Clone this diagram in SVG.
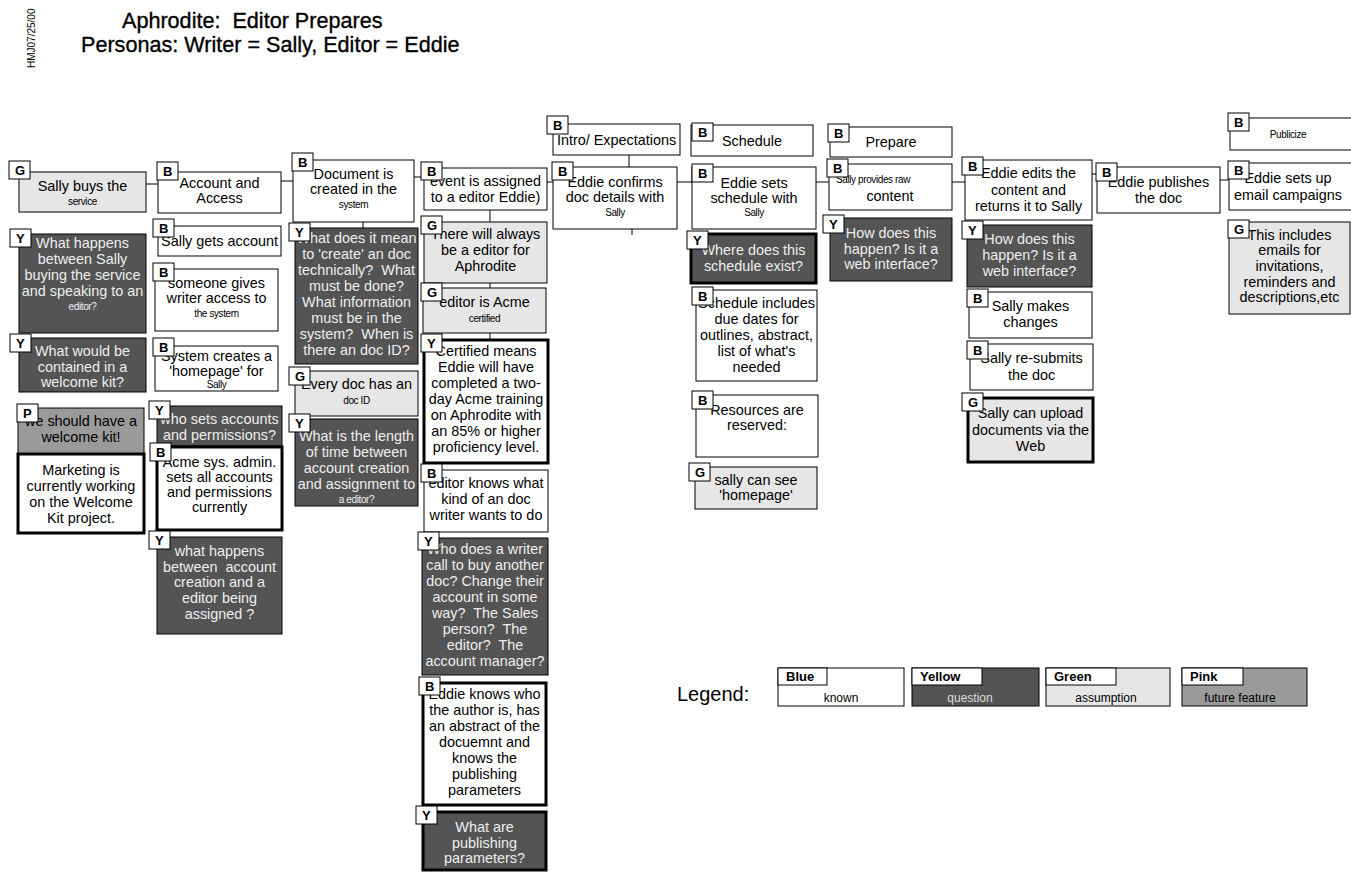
<svg xmlns="http://www.w3.org/2000/svg" width="1351" height="872" viewBox="0 0 1351 872">
<style>
.bx{stroke:#000;stroke-width:1}
.w{fill:#fff}
.y{fill:#545454}
.g{fill:#e6e6e6}
.p{fill:#9a9a9a}
.k{stroke-width:3}
text{font-family:"Liberation Sans",Arial,sans-serif}
.t{font-size:14.4px;text-anchor:middle;fill:#000}
.tl{fill:#eee}
.s{font-size:10px;letter-spacing:-0.4px}
.lb{fill:#fff;stroke:#000;stroke-width:1}
.lt{font-size:13px;font-weight:bold;fill:#000}
.c{stroke:#000;stroke-width:1;fill:none}
.lg{font-size:12px;text-anchor:middle}
.ti{font-size:21.6px;fill:#000;stroke:#000;stroke-width:0.35}
</style>
<rect x="0" y="0" width="1351" height="872" fill="#fff"/>
<g id="title">
<text class="ti" x="122" y="28" xml:space="preserve">Aphrodite:  Editor Prepares</text>
<text class="ti" x="81" y="52">Personas: Writer = Sally, Editor = Eddie</text>
<text transform="translate(35,68) rotate(-90)" font-size="10">HMJ07/25/00</text>
</g>
<g id="connectors">
<path class="c" d="M146,184H158M281,181H293M414,177H424M547,182H553M677,182H692M816,182H829M952,182H965M1092,174H1097M1220,180H1229"/>
<path class="c" d="M363,222V228M490,210V222M490,283V288M490,333V340M629,155V167M632,229V235"/>
</g>
<!-- column 1 -->
<g id="n1"><rect class="bx g" x="19" y="172" width="127" height="40"/><text class="t" x="82.5"><tspan x="82.5" y="191">Sally buys the</tspan><tspan class="s" x="82.5" y="205">service</tspan></text><rect class="lb" x="9" y="161" width="21" height="18"/><text class="lt" x="15" y="175">G</text></g>
<g id="n2"><rect class="bx y" x="19" y="234" width="127" height="99"/><text class="t tl"><tspan x="82.5" y="248">What happens</tspan><tspan x="82.5" y="264">between Sally</tspan><tspan x="82.5" y="280">buying the service</tspan><tspan x="82.5" y="296">and speaking to an</tspan><tspan class="s" x="82.5" y="310">editor?</tspan></text><rect class="lb" x="10" y="229" width="21" height="18"/><text class="lt" x="16" y="243">Y</text></g>
<g id="n3"><rect class="bx y" x="19" y="338" width="127" height="54"/><text class="t tl"><tspan x="82.5" y="356">What would be</tspan><tspan x="82.5" y="372">contained in a</tspan><tspan x="82.5" y="387">welcome kit?</tspan></text><rect class="lb" x="10" y="334" width="21" height="18"/><text class="lt" x="16" y="348">Y</text></g>
<g id="n4"><rect class="bx p" x="18" y="408" width="126" height="46"/><text class="t"><tspan x="81" y="426">we should have a</tspan><tspan x="81" y="442">welcome kit!</tspan></text><rect class="lb" x="17" y="404" width="21" height="18"/><text class="lt" x="23" y="418">P</text></g>
<g id="n5"><rect class="bx w k" x="18" y="454" width="126" height="79"/><text class="t"><tspan x="81" y="475">Marketing is</tspan><tspan x="81" y="491">currently working</tspan><tspan x="81" y="507">on the Welcome</tspan><tspan x="81" y="523">Kit project.</tspan></text></g>
<!-- column 2 -->
<g id="n6"><rect class="bx w" x="158" y="172" width="123" height="41"/><text class="t"><tspan x="219.5" y="188">Account and</tspan><tspan x="219.5" y="203">Access</tspan></text><rect class="lb" x="157" y="162" width="21" height="18"/><text class="lt" x="163" y="176">B</text></g>
<g id="n7"><rect class="bx w" x="158" y="226" width="123" height="30"/><text class="t"><tspan x="219.5" y="246">Sally gets account</tspan></text><rect class="lb" x="153" y="219" width="21" height="18"/><text class="lt" x="159" y="233">B</text></g>
<g id="n8"><rect class="bx w" x="155" y="269" width="123" height="62"/><text class="t"><tspan x="216.5" y="288">someone gives</tspan><tspan x="216.5" y="303">writer access to</tspan><tspan class="s" x="216.5" y="317">the system</tspan></text><rect class="lb" x="153" y="263" width="21" height="18"/><text class="lt" x="159" y="277">B</text></g>
<g id="n9"><rect class="bx w" x="155" y="346" width="123" height="45"/><text class="t"><tspan x="216.5" y="361">System creates a</tspan><tspan x="216.5" y="376">'homepage' for</tspan><tspan class="s" x="216.5" y="388">Sally</tspan></text><rect class="lb" x="153" y="338" width="21" height="18"/><text class="lt" x="159" y="352">B</text></g>
<g id="n10"><rect class="bx y" x="157" y="406" width="125" height="40"/><text class="t tl"><tspan x="219.5" y="424">who sets accounts</tspan><tspan x="219.5" y="440">and permissions?</tspan></text><rect class="lb" x="149" y="401" width="21" height="18"/><text class="lt" x="155" y="415">Y</text></g>
<g id="n11"><rect class="bx w k" x="157" y="447" width="125" height="83"/><text class="t"><tspan x="219.5" y="467">Acme sys. admin.</tspan><tspan x="219.5" y="482">sets all accounts</tspan><tspan x="219.5" y="497">and permissions</tspan><tspan x="219.5" y="512">currently</tspan></text><rect class="lb" x="150" y="443" width="21" height="18"/><text class="lt" x="156" y="457">B</text></g>
<g id="n12"><rect class="bx y" x="157" y="537" width="125" height="97"/><text class="t tl" xml:space="preserve"><tspan x="219.5" y="556">what happens</tspan><tspan x="219.5" y="572">between  account</tspan><tspan x="219.5" y="587">creation and a</tspan><tspan x="219.5" y="603">editor being</tspan><tspan x="219.5" y="619">assigned ?</tspan></text><rect class="lb" x="149" y="531" width="21" height="18"/><text class="lt" x="155" y="545">Y</text></g>
<!-- column 3 -->
<g id="n13"><rect class="bx w" x="293" y="160" width="121" height="62"/><text class="t"><tspan x="353.5" y="179">Document is</tspan><tspan x="353.5" y="194">created in the</tspan><tspan class="s" x="353.5" y="208">system</tspan></text><rect class="lb" x="292" y="153" width="21" height="18"/><text class="lt" x="298" y="167">B</text></g>
<g id="n14"><rect class="bx y" x="295" y="228" width="123" height="136"/><text class="t tl" xml:space="preserve"><tspan x="356.5" y="243">What does it mean</tspan><tspan x="356.5" y="259">to 'create' an doc</tspan><tspan x="356.5" y="275">technically?  What</tspan><tspan x="356.5" y="291">must be done?</tspan><tspan x="356.5" y="307">What information</tspan><tspan x="356.5" y="323">must be in the</tspan><tspan x="356.5" y="339">system?  When is</tspan><tspan x="356.5" y="355">there an doc ID?</tspan></text><rect class="lb" x="289" y="223" width="21" height="18"/><text class="lt" x="295" y="237">Y</text></g>
<g id="n15"><rect class="bx g" x="295" y="371" width="123" height="45"/><text class="t"><tspan x="356.5" y="389">Every doc has an</tspan><tspan class="s" x="356.5" y="404">doc ID</tspan></text><rect class="lb" x="289" y="367" width="21" height="18"/><text class="lt" x="295" y="381">G</text></g>
<g id="n16"><rect class="bx y" x="295" y="419" width="123" height="87"/><text class="t tl"><tspan x="356.5" y="441">What is the length</tspan><tspan x="356.5" y="457">of time between</tspan><tspan x="356.5" y="473">account creation</tspan><tspan x="356.5" y="489">and assignment to</tspan><tspan class="s" x="356.5" y="503">a editor?</tspan></text><rect class="lb" x="289" y="414" width="21" height="18"/><text class="lt" x="295" y="428">Y</text></g>
<!-- column 4 -->
<g id="n17"><rect class="bx w" x="424" y="168" width="123" height="42"/><text class="t"><tspan x="485.5" y="186">event is assigned</tspan><tspan x="485.5" y="202">to a editor Eddie)</tspan></text><rect class="lb" x="421" y="162" width="21" height="18"/><text class="lt" x="427" y="176">B</text></g>
<g id="n18"><rect class="bx g" x="424" y="222" width="123" height="61"/><text class="t"><tspan x="485.5" y="239">There will always</tspan><tspan x="485.5" y="255">be a editor for</tspan><tspan x="485.5" y="271">Aphrodite</tspan></text><rect class="lb" x="421" y="216" width="21" height="18"/><text class="lt" x="427" y="230">G</text></g>
<g id="n19"><rect class="bx g" x="423" y="288" width="123" height="45"/><text class="t"><tspan x="484.5" y="307">editor is Acme</tspan><tspan class="s" x="484.5" y="322">certified</tspan></text><rect class="lb" x="421" y="283" width="21" height="18"/><text class="lt" x="427" y="297">G</text></g>
<g id="n20"><rect class="bx w k" x="424" y="340" width="124" height="123"/><text class="t"><tspan x="486" y="356">Certified means</tspan><tspan x="486" y="372">Eddie will have</tspan><tspan x="486" y="388">completed a two-</tspan><tspan x="486" y="404">day Acme training</tspan><tspan x="486" y="420">on Aphrodite with</tspan><tspan x="486" y="436">an 85% or higher</tspan><tspan x="486" y="452">proficiency level.</tspan></text><rect class="lb" x="421" y="334" width="21" height="18"/><text class="lt" x="427" y="348">Y</text></g>
<g id="n21"><rect class="bx w" x="424" y="470" width="124" height="62"/><text class="t"><tspan x="486" y="488">editor knows what</tspan><tspan x="486" y="504">kind of an doc</tspan><tspan x="486" y="520">writer wants to do</tspan></text><rect class="lb" x="421" y="464" width="21" height="18"/><text class="lt" x="427" y="478">B</text></g>
<g id="n22"><rect class="bx y" x="422" y="538" width="126" height="137"/><text class="t tl" xml:space="preserve"><tspan x="485" y="554">Who does a writer</tspan><tspan x="485" y="570">call to buy another</tspan><tspan x="485" y="586">doc? Change their</tspan><tspan x="485" y="602">account in some</tspan><tspan x="485" y="618">way?  The Sales</tspan><tspan x="485" y="634">person?  The</tspan><tspan x="485" y="650">editor?  The</tspan><tspan x="485" y="666">account manager?</tspan></text><rect class="lb" x="418" y="532" width="21" height="18"/><text class="lt" x="424" y="546">Y</text></g>
<g id="n23"><rect class="bx w k" x="423" y="683" width="123" height="122"/><text class="t"><tspan x="484.5" y="699">Eddie knows who</tspan><tspan x="484.5" y="715">the author is, has</tspan><tspan x="484.5" y="731">an abstract of the</tspan><tspan x="484.5" y="747">docuemnt and</tspan><tspan x="484.5" y="763">knows the</tspan><tspan x="484.5" y="779">publishing</tspan><tspan x="484.5" y="795">parameters</tspan></text><rect class="lb" x="419" y="677" width="21" height="18"/><text class="lt" x="425" y="691">B</text></g>
<g id="n24"><rect class="bx y k" x="423" y="812" width="123" height="58"/><text class="t tl"><tspan x="484.5" y="832">What are</tspan><tspan x="484.5" y="848">publishing</tspan><tspan x="484.5" y="863">parameters?</tspan></text><rect class="lb" x="416" y="806" width="21" height="18"/><text class="lt" x="422" y="820">Y</text></g>
<!-- column 5 -->
<g id="n25"><rect class="bx w" x="553" y="124" width="127" height="31"/><text class="t"><tspan x="616.5" y="145">Intro/ Expectations</tspan></text><rect class="lb" x="547" y="116" width="21" height="18"/><text class="lt" x="553" y="130">B</text></g>
<g id="n26"><rect class="bx w" x="553" y="167" width="124" height="62"/><text class="t"><tspan x="615" y="187">Eddie confirms</tspan><tspan x="615" y="202">doc details with</tspan><tspan class="s" x="615" y="216">Sally</tspan></text><rect class="lb" x="552" y="162" width="21" height="18"/><text class="lt" x="558" y="176">B</text></g>
<!-- column 6 -->
<g id="n27"><rect class="bx w" x="691" y="125" width="122" height="31"/><text class="t"><tspan x="752" y="146">Schedule</tspan></text><rect class="lb" x="692" y="123" width="21" height="18"/><text class="lt" x="698" y="137">B</text></g>
<g id="n28"><rect class="bx w" x="692" y="167" width="124" height="62"/><text class="t"><tspan x="754" y="188">Eddie sets</tspan><tspan x="754" y="203">schedule with</tspan><tspan class="s" x="754" y="216">Sally</tspan></text><rect class="lb" x="692" y="164" width="21" height="18"/><text class="lt" x="698" y="178">B</text></g>
<g id="n29"><rect class="bx y k" x="691" y="234" width="125" height="49"/><text class="t tl"><tspan x="753.5" y="255">Where does this</tspan><tspan x="753.5" y="271">schedule exist?</tspan></text><rect class="lb" x="687" y="231" width="21" height="18"/><text class="lt" x="693" y="245">Y</text></g>
<g id="n30"><rect class="bx w" x="696" y="290" width="121" height="91"/><text class="t"><tspan x="756.5" y="308">Schedule includes</tspan><tspan x="756.5" y="324">due dates for</tspan><tspan x="756.5" y="340">outlines, abstract,</tspan><tspan x="756.5" y="356">list of what's</tspan><tspan x="756.5" y="372">needed</tspan></text><rect class="lb" x="692" y="287" width="21" height="18"/><text class="lt" x="698" y="301">B</text></g>
<g id="n31"><rect class="bx w" x="696" y="395" width="122" height="62"/><text class="t"><tspan x="757" y="415">Resources are</tspan><tspan x="757" y="430">reserved:</tspan></text><rect class="lb" x="692" y="391" width="21" height="18"/><text class="lt" x="698" y="405">B</text></g>
<g id="n32"><rect class="bx g" x="695" y="467" width="122" height="42"/><text class="t"><tspan x="756" y="485">sally can see</tspan><tspan x="756" y="500">'homepage'</tspan></text><rect class="lb" x="689" y="463" width="21" height="18"/><text class="lt" x="695" y="477">G</text></g>
<!-- column 7 -->
<g id="n33"><rect class="bx w" x="830" y="127" width="122" height="30"/><text class="t"><tspan x="891" y="147">Prepare</tspan></text><rect class="lb" x="828" y="124" width="21" height="18"/><text class="lt" x="834" y="138">B</text></g>
<g id="n34"><rect class="bx w" x="829" y="164" width="123" height="46"/><text class="t"><tspan class="s" x="873" y="183">Sally provides raw</tspan><tspan x="890" y="201">content</tspan></text><rect class="lb" x="827" y="159" width="21" height="18"/><text class="lt" x="833" y="173">B</text></g>
<g id="n35"><rect class="bx y" x="830" y="218" width="122" height="63"/><text class="t tl"><tspan x="891" y="238">How does this</tspan><tspan x="891" y="254">happen? Is it a</tspan><tspan x="891" y="269">web interface?</tspan></text><rect class="lb" x="823" y="215" width="21" height="18"/><text class="lt" x="829" y="229">Y</text></g>
<!-- column 8 -->
<g id="n36"><rect class="bx w" x="965" y="160" width="127" height="60"/><text class="t"><tspan x="1028.5" y="178">Eddie edits the</tspan><tspan x="1028.5" y="195">content and</tspan><tspan x="1028.5" y="211">returns it to Sally</tspan></text><rect class="lb" x="962" y="157" width="21" height="18"/><text class="lt" x="968" y="171">B</text></g>
<g id="n37"><rect class="bx y" x="967" y="225" width="125" height="62"/><text class="t tl"><tspan x="1029.5" y="244">How does this</tspan><tspan x="1029.5" y="260">happen? Is it a</tspan><tspan x="1029.5" y="276">web interface?</tspan></text><rect class="lb" x="962" y="221" width="21" height="18"/><text class="lt" x="968" y="235">Y</text></g>
<g id="n38"><rect class="bx w" x="969" y="292" width="123" height="46"/><text class="t"><tspan x="1030.5" y="311">Sally makes</tspan><tspan x="1030.5" y="327">changes</tspan></text><rect class="lb" x="967" y="289" width="21" height="18"/><text class="lt" x="973" y="303">B</text></g>
<g id="n39"><rect class="bx w" x="970" y="344" width="123" height="46"/><text class="t"><tspan x="1031.5" y="363">Sally re-submits</tspan><tspan x="1031.5" y="380">the doc</tspan></text><rect class="lb" x="967" y="341" width="21" height="18"/><text class="lt" x="973" y="355">B</text></g>
<g id="n40"><rect class="bx g k" x="968" y="398" width="125" height="64"/><text class="t"><tspan x="1030.5" y="418">Sally can upload</tspan><tspan x="1030.5" y="435">documents via the</tspan><tspan x="1030.5" y="451">Web</tspan></text><rect class="lb" x="962" y="393" width="21" height="18"/><text class="lt" x="968" y="407">G</text></g>
<!-- column 9 -->
<g id="n41"><rect class="bx w" x="1097" y="167" width="123" height="46"/><text class="t"><tspan x="1158.5" y="187">Eddie publishes</tspan><tspan x="1158.5" y="203">the doc</tspan></text><rect class="lb" x="1096" y="163" width="21" height="18"/><text class="lt" x="1102" y="177">B</text></g>
<!-- column 10 -->
<g id="n42"><rect class="bx w" x="1230" y="118" width="126" height="32"/><text class="t"><tspan class="s" x="1288" y="138">Publicize</tspan></text><rect class="lb" x="1228" y="113" width="21" height="18"/><text class="lt" x="1234" y="127">B</text></g>
<g id="n43"><rect class="bx w" x="1229" y="163" width="126" height="47"/><text class="t"><tspan x="1288" y="183">Eddie sets up</tspan><tspan x="1288" y="200">email campaigns</tspan></text><rect class="lb" x="1228" y="161" width="21" height="18"/><text class="lt" x="1234" y="175">B</text></g>
<g id="n44"><rect class="bx g" x="1229" y="222" width="121" height="92"/><text class="t"><tspan x="1289.5" y="240">This includes</tspan><tspan x="1289.5" y="255">emails for</tspan><tspan x="1289.5" y="271">invitations,</tspan><tspan x="1289.5" y="287">reminders and</tspan><tspan x="1289.5" y="302">descriptions,etc</tspan></text><rect class="lb" x="1228" y="220" width="21" height="18"/><text class="lt" x="1234" y="234">G</text></g>
<!-- legend -->
<g id="legend">
<text x="677" y="701" font-size="20">Legend:</text>
<rect class="bx w" x="778" y="668" width="126" height="38"/><rect class="lb" x="778" y="668" width="49" height="17"/><text class="lt" x="786" y="681">Blue</text><text class="lg" x="841" y="702">known</text>
<rect class="bx y" x="912" y="668" width="127" height="38"/><rect class="lb" x="912" y="668" width="70" height="17"/><text class="lt" x="920" y="681">Yellow</text><text class="lg" x="970" y="702" fill="#ddd">question</text>
<rect class="bx g" x="1046" y="668" width="124" height="38"/><rect class="lb" x="1046" y="668" width="70" height="17"/><text class="lt" x="1054" y="681">Green</text><text class="lg" x="1106" y="702">assumption</text>
<rect class="bx p" x="1182" y="668" width="125" height="38"/><rect class="lb" x="1182" y="668" width="61" height="17"/><text class="lt" x="1190" y="681">Pink</text><text class="lg" x="1240" y="702">future feature</text>
</g>
</svg>
